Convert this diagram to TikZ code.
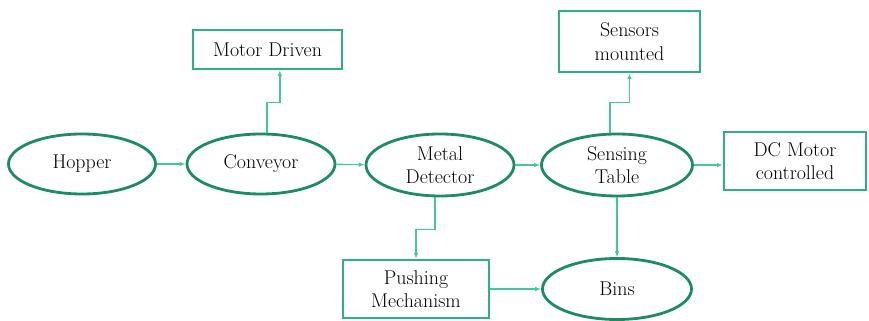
\documentclass[tikz,border=0pt]{standalone}
\usetikzlibrary{shapes.geometric,arrows.meta}
\definecolor{ringgreen}{HTML}{1E8C62}
\definecolor{boxgreen}{HTML}{2DB088}
\definecolor{linkgreen}{HTML}{45C79C}
\begin{document}
\begin{tikzpicture}[x=0.03cm,y=-0.03cm,font=\fontsize{17}{20}\selectfont,
	oval/.style={ellipse,draw=ringgreen,line width=2.4pt,inner sep=0pt,align=center},
	block/.style={rectangle,draw=boxgreen,line width=2.2pt,inner sep=0pt,align=center},
	flow/.style={draw=linkgreen,line width=1.2pt,-{Latex[length=5pt,width=4pt]}}]
	\useasboundingbox (0,0) rectangle (869,321);
	
	% main line
	\node[oval,minimum width=147*0.03cm,minimum height=60*0.03cm] (hopper) at (82,164) {Hopper};
	\node[oval,minimum width=148*0.03cm,minimum height=60*0.03cm] (conveyor) at (261,164) {Conveyor};
	\node[oval,minimum width=148*0.03cm,minimum height=62*0.03cm] (detector) at (440,165) {Metal\\Detector};
	\node[oval,minimum width=151*0.03cm,minimum height=62*0.03cm] (sensing) at (617,165) {Sensing\\Table};
	\node[oval,minimum width=149*0.03cm,minimum height=61*0.03cm] (bins) at (617,289) {Bins};
	
	% boxes
	\node[block,minimum width=149*0.03cm,minimum height=39*0.03cm] (motor) at (267.5,49.5) {Motor Driven};
	\node[block,minimum width=141*0.03cm,minimum height=61*0.03cm] (sensors) at (629.5,41.5) {Sensors\\mounted};
	\node[block,minimum width=142*0.03cm,minimum height=58*0.03cm] (dcmotor) at (795,161) {DC Motor\\controlled};
	\node[block,minimum width=146*0.03cm,minimum height=58*0.03cm] (pushing) at (416,289) {Pushing\\Mechanism};
	
	% links
	\draw[flow] (hopper) -- (conveyor);
	\draw[flow] (conveyor) -- (detector);
	\draw[flow] (detector) -- (sensing);
	\draw[flow] (sensing.east) -- (sensing.east -| dcmotor.west);
	\draw[flow] ([xshift=0.18cm]conveyor.north) -- ++(0,-30) -| ([xshift=0.37cm]motor.south);
	\draw[flow] ([xshift=-0.21cm]sensing.north) -- ++(0,-30) -| (sensors.south);
	\draw[flow] ([xshift=-0.15cm]detector.south) -- ++(0,32) -| (pushing.north);
	\draw[flow] (sensing.south) -- (bins.north);
	\draw[flow] (pushing.east) -- (bins.west);
\end{tikzpicture}
\end{document}
